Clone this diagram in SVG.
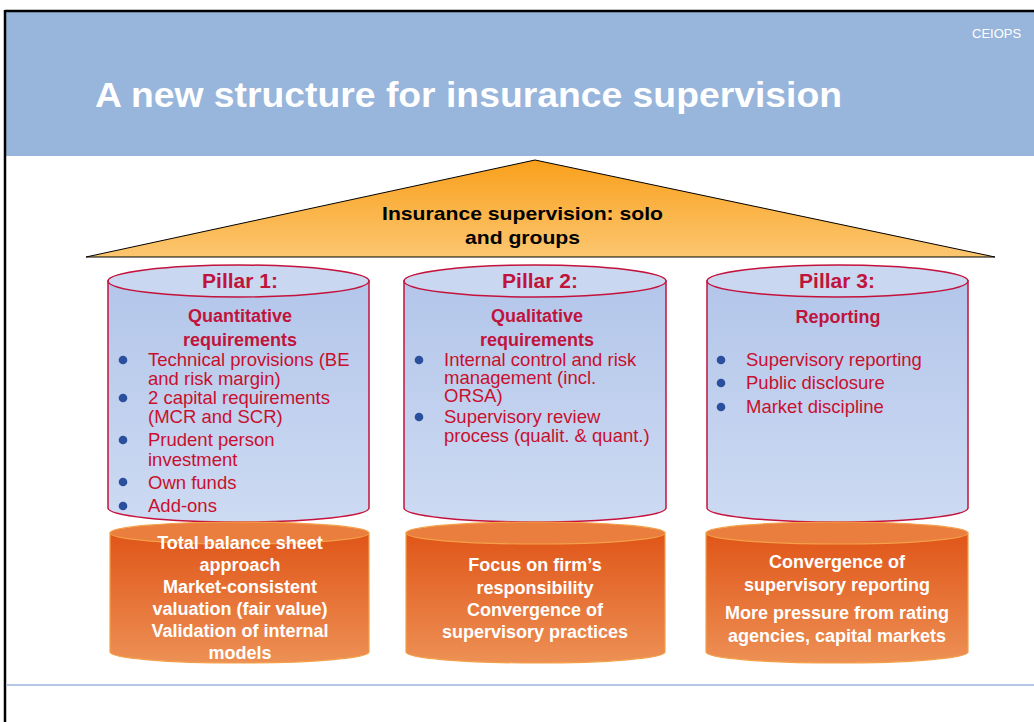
<svg xmlns="http://www.w3.org/2000/svg" width="1034" height="722" viewBox="0 0 1034 722">
<defs>
<linearGradient id="gTri" x1="0" y1="0" x2="0" y2="1"><stop offset="0" stop-color="#F9A01C"/><stop offset="1" stop-color="#FCC670"/></linearGradient>
<linearGradient id="gPil" x1="0" y1="0" x2="0" y2="1"><stop offset="0" stop-color="#B3C6EA"/><stop offset="1" stop-color="#CDDAF2"/></linearGradient>
<linearGradient id="gOr" x1="0" y1="0" x2="0" y2="1"><stop offset="0" stop-color="#E05518"/><stop offset="1" stop-color="#ED9055"/></linearGradient>
<style>
.pil{fill:url(#gPil);stroke:#C4123C;stroke-width:1.5}
.pilTop{fill:#C9D7F0;stroke:#C4123C;stroke-width:1.5}
.or{fill:url(#gOr);stroke:#F4A048;stroke-width:1.2}
.orTop{fill:#EA7E3E;stroke:#F4A048;stroke-width:1.2}
.ttl{font-family:"Liberation Sans",Arial,sans-serif;font-weight:bold;font-size:21px;fill:#C0143C;text-anchor:middle}
.sub{font-family:"Liberation Sans",Arial,sans-serif;font-weight:bold;font-size:18px;fill:#C0143C;text-anchor:middle}
.bul{font-family:"Liberation Sans",Arial,sans-serif;font-size:18.5px;fill:#C8102E}
.dot{fill:#2A4F9C}
.ow{font-family:"Liberation Sans",Arial,sans-serif;font-weight:bold;font-size:18px;fill:#FFFFFF;text-anchor:middle}
.roofT{font-family:"Liberation Sans",Arial,sans-serif;font-weight:bold;font-size:19px;fill:#000000}
</style>
</defs>
<rect x="0" y="0" width="1034" height="722" fill="#FFFFFF"/>
<g id="header">
<rect x="5" y="11" width="1029" height="145" fill="#98B5DB"/>
<text x="972" y="38" font-family="Liberation Sans,Arial,sans-serif" font-size="13" fill="#FFFFFF">CEIOPS</text>
<text x="95" y="107" font-family="Liberation Sans,Arial,sans-serif" font-weight="bold" font-size="35" fill="#FFFFFF" textLength="747" lengthAdjust="spacingAndGlyphs">A new structure for insurance supervision</text>
</g>
<g id="frame">
<line x1="5" y1="11" x2="1034" y2="11" stroke="#000" stroke-width="2.5"/>
<line x1="5" y1="10" x2="5" y2="722" stroke="#000" stroke-width="2.5"/>
<line x1="6" y1="685" x2="1034" y2="685" stroke="#B4C7E7" stroke-width="2"/>
</g>
<g id="roof">
<polygon points="535,160 995,257 86,257" fill="url(#gTri)" stroke="#000" stroke-width="1"/>
<text class="roofT" x="382" y="220" textLength="281" lengthAdjust="spacingAndGlyphs">Insurance supervision: solo</text>
<text class="roofT" x="465" y="244" textLength="115" lengthAdjust="spacingAndGlyphs">and groups</text>
</g>
<g id="pillar1">
<path class="pil" d="M108,281 L108,508 A130.5,14 0 0 0 369,508 L369,281 Z"/>
<ellipse class="pilTop" cx="238.5" cy="281" rx="130.5" ry="16"/>
<text class="ttl" x="240" y="288">Pillar 1:</text>
<text class="sub" x="240" y="322">Quantitative</text>
<text class="sub" x="240" y="346">requirements</text>
<circle class="dot" cx="123" cy="360" r="4.3"/>
<text class="bul" x="148" y="366">Technical provisions (BE</text>
<text class="bul" x="148" y="385">and risk margin)</text>
<circle class="dot" cx="123" cy="398" r="4.3"/>
<text class="bul" x="148" y="404">2 capital requirements</text>
<text class="bul" x="148" y="423">(MCR and SCR)</text>
<circle class="dot" cx="123" cy="440" r="4.3"/>
<text class="bul" x="148" y="446">Prudent person</text>
<text class="bul" x="148" y="466">investment</text>
<circle class="dot" cx="123" cy="482" r="4.3"/>
<text class="bul" x="148" y="489">Own funds</text>
<circle class="dot" cx="123" cy="506" r="4.3"/>
<text class="bul" x="148" y="512">Add-ons</text>
</g>
<g id="pillar2">
<path class="pil" d="M404,281 L404,508 A131,14 0 0 0 666,508 L666,281 Z"/>
<ellipse class="pilTop" cx="535" cy="281" rx="131" ry="16"/>
<text class="ttl" x="540" y="288">Pillar 2:</text>
<text class="sub" x="537" y="322">Qualitative</text>
<text class="sub" x="537" y="346">requirements</text>
<circle class="dot" cx="419" cy="360" r="4.3"/>
<text class="bul" x="444" y="366">Internal control and risk</text>
<text class="bul" x="444" y="384">management (incl.</text>
<text class="bul" x="444" y="402">ORSA)</text>
<circle class="dot" cx="419" cy="417" r="4.3"/>
<text class="bul" x="444" y="423">Supervisory review</text>
<text class="bul" x="444" y="442">process (qualit. &amp; quant.)</text>
</g>
<g id="pillar3">
<path class="pil" d="M707,281 L707,508 A130.5,14 0 0 0 968,508 L968,281 Z"/>
<ellipse class="pilTop" cx="837.5" cy="281" rx="130.5" ry="16"/>
<text class="ttl" x="837" y="288">Pillar 3:</text>
<text class="sub" x="838" y="323">Reporting</text>
<circle class="dot" cx="721" cy="360" r="4.3"/>
<text class="bul" x="746" y="366">Supervisory reporting</text>
<circle class="dot" cx="721" cy="383" r="4.3"/>
<text class="bul" x="746" y="389">Public disclosure</text>
<circle class="dot" cx="721" cy="407" r="4.3"/>
<text class="bul" x="746" y="413">Market discipline</text>
</g>
<g id="base1">
<path class="or" d="M110,533 L110,652 A129.5,11 0 0 0 369,652 L369,533 Z"/>
<ellipse class="orTop" cx="239.5" cy="533" rx="129.5" ry="11"/>
<text class="ow" x="240" y="549">Total balance sheet</text>
<text class="ow" x="240" y="571">approach</text>
<text class="ow" x="240" y="593">Market-consistent</text>
<text class="ow" x="240" y="615">valuation (fair value)</text>
<text class="ow" x="240" y="637">Validation of internal</text>
<text class="ow" x="240" y="659">models</text>
</g>
<g id="base2">
<path class="or" d="M406,533 L406,652 A129.5,11 0 0 0 665,652 L665,533 Z"/>
<ellipse class="orTop" cx="535.5" cy="533" rx="129.5" ry="11"/>
<text class="ow" x="535" y="571">Focus on firm’s</text>
<text class="ow" x="535" y="594">responsibility</text>
<text class="ow" x="535" y="616">Convergence of</text>
<text class="ow" x="535" y="638">supervisory practices</text>
</g>
<g id="base3">
<path class="or" d="M706,533 L706,652 A131,11 0 0 0 968,652 L968,533 Z"/>
<ellipse class="orTop" cx="837" cy="533" rx="131" ry="11"/>
<text class="ow" x="837" y="568">Convergence of</text>
<text class="ow" x="837" y="591">supervisory reporting</text>
<text class="ow" x="837" y="619">More pressure from rating</text>
<text class="ow" x="837" y="642">agencies, capital markets</text>
</g>
<g id="connectors"/>
</svg>
